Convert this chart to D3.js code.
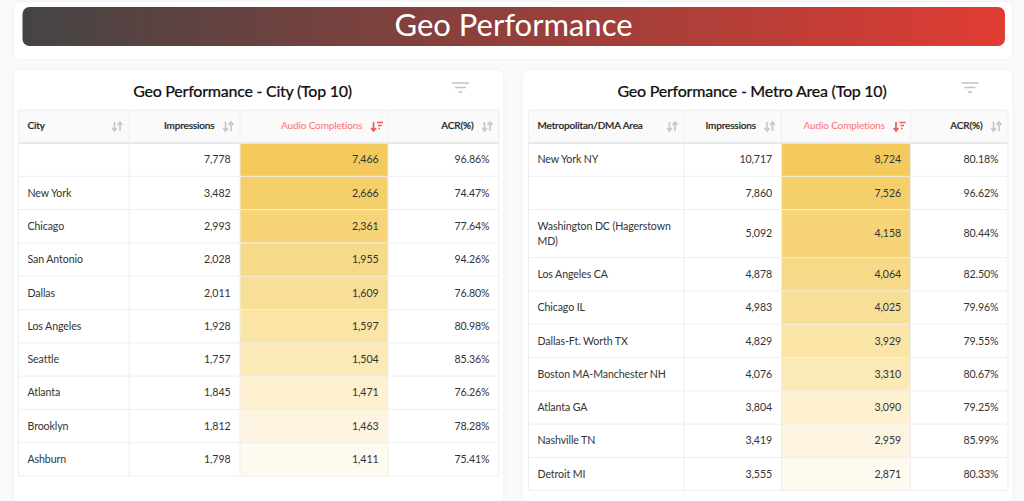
<!DOCTYPE html>
<html><head><meta charset="utf-8">
<script src="https://cdn.jsdelivr.net/npm/d3@7"></script>
<style>
html,body{margin:0;padding:0;background:#fafafa;overflow:hidden}
svg{display:block;font-family:Lato,"Open Sans",sans-serif}
</style></head><body><svg id="c" width="1024" height="501"></svg>
<script>
const pageTitle = "Geo Performance";
const cityTitle = "Geo Performance - City (Top 10)";
const metroTitle = "Geo Performance - Metro Area (Top 10)";
const valueHeaders = ["Impressions","Audio Completions","ACR(%)"];
const cityNames = ["","New York","Chicago","San Antonio","Dallas","Los Angeles","Seattle","Atlanta","Brooklyn","Ashburn"];
const cityImpressions = [7778,3482,2993,2028,2011,1928,1757,1845,1812,1798];
const cityCompletions = [7466,2666,2361,1955,1609,1597,1504,1471,1463,1411];
const cityAcr = [96.86,74.47,77.64,94.26,76.80,80.98,85.36,76.26,78.28,75.41];
const metroNames = ["New York NY","",["Washington DC (Hagerstown","MD)"],"Los Angeles CA","Chicago IL","Dallas-Ft. Worth TX","Boston MA-Manchester NH","Atlanta GA","Nashville TN","Detroit MI"];
const metroImpressions = [10717,7860,5092,4878,4983,4829,4076,3804,3419,3555];
const metroCompletions = [8724,7526,4158,4064,4025,3929,3310,3090,2959,2871];
const metroAcr = [80.18,96.62,80.44,82.50,79.96,79.55,80.67,79.25,85.99,80.33];

const svg = d3.select("#c");
const defs = svg.append("defs");
const grad = defs.append("linearGradient").attr("id","g");
grad.append("stop").attr("offset","0").attr("stop-color","#444444");
grad.append("stop").attr("offset","1").attr("stop-color","#e03c33");
const sh = defs.append("filter").attr("id","s").attr("x","-5%").attr("y","-5%").attr("width","110%").attr("height","110%");
sh.append("feDropShadow").attr("dx",0).attr("dy",0).attr("stdDeviation",2).attr("flood-color","#000").attr("flood-opacity",0.05);

function card(x,y,w,h){svg.append("rect").attr("x",x).attr("y",y).attr("width",w).attr("height",h).attr("rx",6).attr("fill","#fff").attr("filter","url(#s)");}
card(14,2,998,57);
svg.append("rect").attr("x",22.5).attr("y",7).attr("width",982.5).attr("height",39).attr("rx",7).attr("fill","url(#g)");
svg.append("text").attr("x",513.5).attr("y",36).attr("text-anchor","middle").attr("font-size",31).attr("fill","#fff").text(pageTitle);

const fmt = d3.format(",");
const heat = d3.scaleLinear().domain([0,1,2,3,4,5,6,7,8,9]).range(["#f5ca5c","#f5cf6a","#f6d477","#f7da87","#f8df97","#fae4a6","#fbe9b6","#fdf1d0","#fdf5e1","#fefaf0"]);

function sortIcon(g,x,y,color,active){
  const p = (ax,up,w)=>{
    const t=y-4.5,b=y+4.5;
    return up?`M${ax},${b}V${t+1} M${ax-w},${t+3}L${ax},${t}L${ax+w},${t+3}`:`M${ax},${t}V${b-1} M${ax-w},${b-3}L${ax},${b}L${ax+w},${b-3}`;
  };
  g.append("path").attr("d",p(x,false,2.4)).attr("stroke",color).attr("stroke-width",1.7).attr("fill","none");
  if(active){
    g.append("path").attr("d",`M${x+3.5},${y-4}h6 M${x+4.5},${y-1}h3.5 M${x+5},${y+2}h1.5`).attr("stroke",color).attr("stroke-width",1.7).attr("fill","none");
  } else {
    g.append("path").attr("d",p(x+5.5,true,2.4)).attr("stroke",color).attr("stroke-width",1.7).attr("fill","none");
  }
}
function table(o){
  card(o.card[0],70,o.card[1],436);
  const g = svg.append("g");
  g.append("text").attr("x",o.titleX).attr("y",97.2).attr("text-anchor","middle").attr("font-size",16).attr("letter-spacing",-0.25).attr("font-weight",500).attr("stroke","#111").attr("stroke-width",0.15).attr("fill","#111").text(o.title);
  const fx=o.filterX;
  g.append("path").attr("d",`M${fx-8.5},83h17 M${fx-5.5},87.5h11 M${fx-2},92h4`).attr("stroke","#c4c4c4").attr("stroke-width",1.3).attr("fill","none");

  const rowH = o.names.map(n=>Array.isArray(n)?48:33.3);
  const edges = d3.cumsum([0].concat(rowH));
  const y = d3.scaleLinear().domain([0,edges[edges.length-1]]).range([143,143+edges[edges.length-1]]);
  const xs = o.cols;
  const bottom = y(edges[edges.length-1]);
  g.selectAll(".h").data(o.comp).join("rect").attr("x",xs[2]).attr("width",xs[3]-xs[2])
    .attr("y",(d,i)=>y(edges[i])).attr("height",(d,i)=>rowH[i]+.5).attr("fill",(d,i)=>heat(i));
  g.append("rect").attr("x",xs[0]).attr("y",110).attr("width",xs[4]-xs[0]).attr("height",33).attr("fill","#fafafa");
  const line="#eeeeee";
  edges.slice(1).forEach(e=>g.append("line").attr("x1",xs[0]).attr("x2",xs[4]).attr("y1",y(e)).attr("y2",y(e)).attr("stroke",line).attr("stroke-width",1));
  g.append("line").attr("x1",xs[0]).attr("x2",xs[4]).attr("y1",110).attr("y2",110).attr("stroke",line);
  g.append("line").attr("x1",xs[0]).attr("x2",xs[4]).attr("y1",143).attr("y2",143).attr("stroke","#e8e8e8").attr("stroke-width",2);
  xs.forEach(x=>g.append("line").attr("x1",x).attr("x2",x).attr("y1",110).attr("y2",bottom).attr("stroke",line));
  const hdr=(sel,a)=>sel.attr("font-size",10).attr("letter-spacing",-0.15).attr("font-weight",500).attr("stroke",a?"none":"#222").attr("stroke-width",0.2).attr("fill",a?"#fa7a7a":"#222");
  hdr(g.append("text").attr("x",xs[0]+9).attr("y",129).text(o.first),false);
  sortIcon(g,xs[1]-14.5,126.5,"#c8c8c8",false);
  valueHeaders.forEach((h,i)=>{
    const col=i+1, r=xs[col+1];
    const a=col===2;
    hdr(g.append("text").attr("x",r-25.5).attr("y",129).attr("text-anchor","end").text(h),a);
    sortIcon(g,r-14.5,126.5,a?"#ee5a52":"#c8c8c8",a);
  });
  o.names.forEach((n,i)=>{
    const top=y(edges[i]), mid=top+rowH[i]/2+3.7;
    const lines=Array.isArray(n)?n:[n];
    lines.forEach((t,k)=>g.append("text").attr("x",xs[0]+9).attr("y",mid-(lines.length-1)*7.5+k*15).attr("font-size",10.6).attr("letter-spacing",-0.1).attr("fill","#333").text(t));
    const vals=[fmt(o.imp[i]),fmt(o.comp[i]),d3.format(".2f")(o.acr[i])+"%"];
    vals.forEach((t,c)=>g.append("text").attr("x",xs[c+2]-9.5).attr("y",mid).attr("text-anchor","end").attr("font-size",10.6).attr("letter-spacing",-0.1).attr("fill","#333").text(t));
  });
}
table({card:[14,489],title:cityTitle,titleX:242.5,filterX:460.5,first:"City",cols:[18.5,129,240,388,499],names:cityNames,imp:cityImpressions,comp:cityCompletions,acr:cityAcr});
table({card:[523,489],title:metroTitle,titleX:752,filterX:970,first:"Metropolitan/DMA Area",cols:[528.5,684,781.5,910.5,1008],names:metroNames,imp:metroImpressions,comp:metroCompletions,acr:metroAcr});
</script></body></html>
